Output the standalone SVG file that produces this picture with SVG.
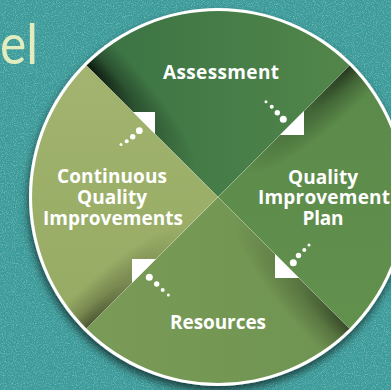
<svg xmlns="http://www.w3.org/2000/svg" width="391" height="390" viewBox="0 0 391 390">
<defs>
<style>
.lbl{font-family:"Open Sans","Liberation Sans",sans-serif;font-weight:bold;font-size:19px;fill:#ffffff;text-anchor:middle}
.arr{fill:#ffffff}
.dot{fill:#ffffff}
.edge{stroke:#ffffff;stroke-opacity:0.25;stroke-width:0.8;fill:none}
</style>
<filter id="noise" x="0" y="0" width="100%" height="100%">
<feTurbulence type="fractalNoise" baseFrequency="0.9" numOctaves="2" seed="3" result="n"/>
<feColorMatrix in="n" type="matrix" values="0 0 0 0 0.45  0 0 0 0 0.75  0 0 0 0 0.65  0 0 0 1.2 -0.55"/>
<feComposite in2="SourceGraphic" operator="in"/>
</filter>
<filter id="drop" x="-20%" y="-20%" width="140%" height="140%">
<feDropShadow dx="-1" dy="5" stdDeviation="4" flood-color="#000000" flood-opacity="0.6"/>
</filter>
<linearGradient id="gA" x1="0" y1="0" x2="1" y2="0"><stop offset="0" stop-color="#3a7244"/><stop offset="1" stop-color="#52864a"/></linearGradient>
<linearGradient id="gQ" x1="0" y1="0" x2="0" y2="1"><stop offset="0" stop-color="#5a8a4a"/><stop offset="1" stop-color="#62904d"/></linearGradient>
<linearGradient id="gR" x1="0" y1="0" x2="1" y2="0"><stop offset="0" stop-color="#7a9b57"/><stop offset="1" stop-color="#6e9351"/></linearGradient>
<linearGradient id="gL" x1="0" y1="0" x2="0" y2="1"><stop offset="0" stop-color="#a2b46f"/><stop offset="1" stop-color="#95aa63"/></linearGradient>
<radialGradient id="sA" gradientUnits="userSpaceOnUse" cx="0" cy="0" r="1" gradientTransform="translate(86.5,65.5) rotate(45) scale(150,34)"><stop offset="0" stop-color="#000" stop-opacity="0.8"/><stop offset="0.45" stop-color="#000" stop-opacity="0.3"/><stop offset="1" stop-color="#000" stop-opacity="0"/></radialGradient>
<radialGradient id="sQ" gradientUnits="userSpaceOnUse" cx="0" cy="0" r="1" gradientTransform="translate(349.5,65.5) rotate(135) scale(150,34)"><stop offset="0" stop-color="#000" stop-opacity="0.6"/><stop offset="0.45" stop-color="#000" stop-opacity="0.25"/><stop offset="1" stop-color="#000" stop-opacity="0"/></radialGradient>
<radialGradient id="sR" gradientUnits="userSpaceOnUse" cx="0" cy="0" r="1" gradientTransform="translate(349.5,328.5) rotate(225) scale(160,36)"><stop offset="0" stop-color="#000" stop-opacity="0.5"/><stop offset="0.45" stop-color="#000" stop-opacity="0.2"/><stop offset="1" stop-color="#000" stop-opacity="0"/></radialGradient>
<radialGradient id="sL" gradientUnits="userSpaceOnUse" cx="0" cy="0" r="1" gradientTransform="translate(86.5,328.5) rotate(-45) scale(140,32)"><stop offset="0" stop-color="#000" stop-opacity="0.5"/><stop offset="0.45" stop-color="#000" stop-opacity="0.2"/><stop offset="1" stop-color="#000" stop-opacity="0"/></radialGradient>
</defs>
<rect x="0" y="0" width="391" height="390" fill="#3b9a9a"/>
<rect x="0" y="0" width="391" height="390" fill="#3b9a9a" filter="url(#noise)"/>
<text x="0" y="64" font-family="Lato,'Liberation Sans',sans-serif" font-size="56" fill="#e2ecbf" textLength="38" lengthAdjust="spacingAndGlyphs">el</text>
<circle cx="218" cy="197" r="189" fill="#ffffff" filter="url(#drop)"/>
<g id="assessment">
<path d="M218,197 L86.5,65.5 A186,186 0 0 1 349.5,65.5 Z" fill="url(#gA)"/>
<path d="M218,197 L86.5,65.5 A186,186 0 0 1 349.5,65.5 Z" fill="url(#sA)"/>
<text class="lbl" x="221" y="79" textLength="116">Assessment</text>
</g>
<g id="quality-improvement-plan">
<path d="M218,197 L349.5,65.5 A186,186 0 0 1 349.5,328.5 Z" fill="url(#gQ)"/>
<path d="M218,197 L349.5,65.5 A186,186 0 0 1 349.5,328.5 Z" fill="url(#sQ)"/>
<text class="lbl" x="323" y="184" textLength="70">Quality</text>
<text class="lbl" x="324" y="204" textLength="132">Improvement</text>
<text class="lbl" x="323" y="225" textLength="41">Plan</text>
</g>
<g id="resources">
<path d="M218,197 L349.5,328.5 A186,186 0 0 1 86.5,328.5 Z" fill="url(#gR)"/>
<path d="M218,197 L349.5,328.5 A186,186 0 0 1 86.5,328.5 Z" fill="url(#sR)"/>
<text class="lbl" x="218" y="329" textLength="96">Resources</text>
</g>
<g id="continuous-quality-improvements">
<path d="M218,197 L86.5,328.5 A186,186 0 0 1 86.5,65.5 Z" fill="url(#gL)"/>
<path d="M218,197 L86.5,328.5 A186,186 0 0 1 86.5,65.5 Z" fill="url(#sL)"/>
<text class="lbl" x="112" y="183" textLength="110">Continuous</text>
<text class="lbl" x="112" y="204" textLength="70">Quality</text>
<text class="lbl" x="113" y="225" textLength="140">Improvements</text>
</g>
<g id="connectors">
<path class="edge" d="M86.5,65.5 L349.5,328.5 M349.5,65.5 L86.5,328.5"/>
<polygon class="arr" points="133,112 155,112 155,134"/>
<circle class="dot" cx="139.3" cy="130.7" r="3.4"/>
<circle class="dot" cx="132.7" cy="136.7" r="2.7"/>
<circle class="dot" cx="126.7" cy="141.3" r="2"/>
<circle class="dot" cx="121" cy="144.5" r="1.5"/>
<polygon class="arr" points="280,135 304,135 304,111"/>
<circle class="dot" cx="283.3" cy="119.3" r="3.5"/>
<circle class="dot" cx="277.3" cy="112.7" r="2.7"/>
<circle class="dot" cx="271.7" cy="106.7" r="2"/>
<circle class="dot" cx="266" cy="101.7" r="1.5"/>
<polygon class="arr" points="275,254 275,278 299,278"/>
<circle class="dot" cx="293.3" cy="262.7" r="3.5"/>
<circle class="dot" cx="298.5" cy="255.5" r="2.7"/>
<circle class="dot" cx="304.3" cy="250" r="2"/>
<circle class="dot" cx="309" cy="245" r="1.5"/>
<polygon class="arr" points="132,283 132,259 156,259"/>
<circle class="dot" cx="149.3" cy="277.3" r="3.5"/>
<circle class="dot" cx="156.7" cy="284" r="2.7"/>
<circle class="dot" cx="162.7" cy="290" r="2"/>
<circle class="dot" cx="168.3" cy="295" r="1.5"/>
</g>
</svg>
